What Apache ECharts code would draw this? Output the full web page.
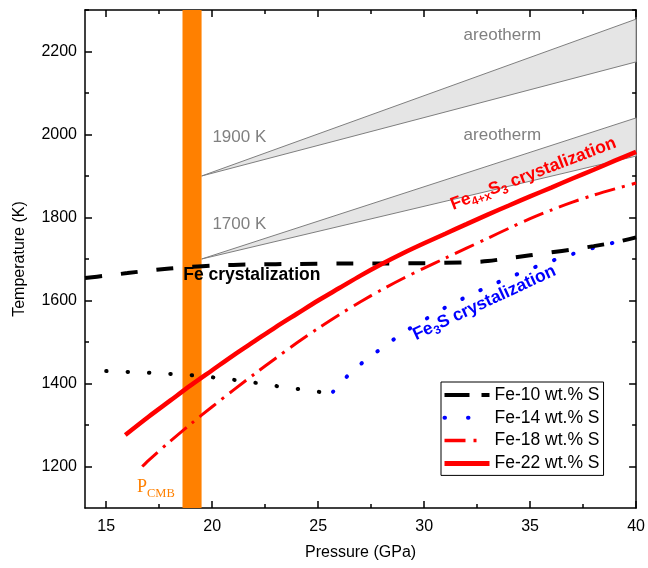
<!DOCTYPE html>
<html>
<head>
<meta charset="utf-8">
<script src="https://cdn.jsdelivr.net/npm/echarts@6/dist/echarts.min.js"></script>
<style>
  html, body { margin: 0; padding: 0; background: #fff; }
  #chart { width: 648px; height: 568px; }
</style>
</head>
<body>
<div id="chart"></div>
<script>
// axis ticks
const xMajor = [15, 20, 25, 30, 35, 40];
const xMinor = [17.5, 22.5, 27.5, 32.5, 37.5];
const yMajor = [1200, 1400, 1600, 1800, 2000, 2200];
const yMinor = [1300, 1500, 1700, 1900, 2100, 2300];

// Fe-10 wt.% S (black dashed)
const fe10P = [14, 15, 16, 17, 18, 19, 20, 22, 24, 26, 28, 30, 32, 33, 34, 35, 36, 37, 38, 39, 40];
const fe10T = [1654, 1660, 1666, 1672, 1677, 1681, 1684, 1687, 1688, 1689, 1689, 1690, 1692, 1695, 1702, 1709, 1716, 1723, 1731, 1740, 1752];

// Fe-14 wt.% S, low part (black dots) and Fe3S branch (blue dots)
const fe14lowP = [15, 16, 17, 18, 19, 20, 21, 22, 23, 24, 25, 25.6];
const fe14lowT = [1430, 1428, 1426, 1423, 1420, 1415, 1409, 1402, 1394, 1387, 1380, 1379];
const fe14P = [25.7, 26.4, 27.2, 28, 29, 30, 31, 32, 33, 34, 35, 36, 37, 38, 39, 39.6];
const fe14T = [1380, 1419, 1455, 1485, 1522, 1553, 1583, 1609, 1633, 1655, 1676, 1695, 1712, 1727, 1740, 1746];

// Fe-18 wt.% S (red dash-dot)
const fe18P = [16.7, 17, 18, 19, 20, 21, 22, 23, 24, 25, 26, 27, 28, 29, 30, 31, 32, 33, 34, 35, 36, 37, 38, 39, 40];
const fe18T = [1200, 1215, 1260, 1303, 1344, 1384, 1423, 1461, 1498, 1533, 1566, 1597, 1626, 1653, 1678, 1702, 1726, 1750, 1774, 1797, 1818, 1837, 1854, 1869, 1883];

// Fe-22 wt.% S (red solid)
const fe22P = [15.9, 17, 18, 19, 20, 21, 22, 23, 24, 25, 26, 27, 28, 29, 30, 31, 32, 33, 34, 35, 36, 37, 38, 39, 40];
const fe22T = [1276, 1320, 1358, 1396, 1432, 1468, 1502, 1536, 1568, 1600, 1630, 1660, 1688, 1714, 1738, 1761, 1784, 1807, 1829, 1851, 1872, 1894, 1915, 1937, 1958];

// areotherm bands: start point, end point upper/lower
const bandP = [19.5, 40];
const hotBandT = [1900, 2278, 2175];
const coldBandT = [1700, 2040, 1948];

// core-mantle boundary pressure range
const cmbP = [18.6, 19.5];

const SANS = '"Liberation Sans", Arial, sans-serif';
const SERIF = '"Liberation Serif", "Times New Roman", serif';

// text notes: [text, fontSize, dy]
const notes = [
  { p: 33.69, t: 2240, rot: 0, color: '#808080', weight: 'normal', family: SANS, align: 'center', runs: [['areotherm', 17, 0]] },
  { p: 33.69, t: 1999, rot: 0, color: '#808080', weight: 'normal', family: SANS, align: 'center', runs: [['areotherm', 17, 0]] },
  { p: 20.01, t: 1994, rot: 0, color: '#808080', weight: 'normal', family: SANS, align: 'left', runs: [['1900 K', 17, 0]] },
  { p: 20.01, t: 1784, rot: 0, color: '#808080', weight: 'normal', family: SANS, align: 'left', runs: [['1700 K', 17, 0]] },
  { p: 21.87, t: 1661, rot: 0, color: '#000', weight: 'bold', family: SANS, align: 'center', runs: [['Fe crystalization', 17.5, 0]] },
  { p: 35.15, t: 1905, rot: 21, color: '#ff0000', weight: 'bold', family: SANS, align: 'center',
    runs: [['Fe', 17.5, 0], ['4+x', 12, 5], ['S', 17.5, 0], ['3', 12, 5], [' crystalization', 17.5, 0]] },
  { p: 32.84, t: 1594, rot: 25, color: '#0000ff', weight: 'bold', family: SANS, align: 'center',
    runs: [['Fe', 17.5, 0], ['3', 12, 5], ['S crystalization', 17.5, 0]] },
  { p: 16.45, t: 1151, rot: 0, color: '#ff8000', weight: 'normal', family: SERIF, align: 'left',
    runs: [['P', 18, 0], ['CMB', 12.5, 7]] }
];

const zip = (a, b) => a.map((v, i) => [v, b[i]]);

const measureCtx = document.createElement('canvas').getContext('2d');
function runWidth(txt, font) {
  measureCtx.font = font;
  return measureCtx.measureText(txt).width;
}

function axisPair(kind, position, major, minor, extra) {
  const isX = kind === 'x';
  const base = {
    type: 'value',
    position: position,
    min: isX ? 14 : 1100,
    max: isX ? 40 : 2300,
    splitLine: { show: false }
  };
  const majorAxis = Object.assign({}, base, {
    axisLine: { show: true, onZero: false, lineStyle: { color: '#000', width: 1.5 } },
    axisTick: { show: true, inside: true, length: 7, customValues: major, lineStyle: { color: '#000', width: 1.5 } },
    axisLabel: { show: false, customValues: major }
  }, extra || {});
  const minorAxis = Object.assign({}, base, {
    axisLine: { show: false, onZero: false },
    axisTick: { show: true, inside: true, length: 4, customValues: minor, lineStyle: { color: '#000', width: 1.5 } },
    axisLabel: { show: false, customValues: minor }
  });
  return [majorAxis, minorAxis];
}

const xAxes = [].concat(
  axisPair('x', 'bottom', xMajor, xMinor, {
    name: 'Pressure (GPa)',
    nameLocation: 'middle',
    nameGap: 37,
    nameTextStyle: { fontSize: 16, color: '#000', fontFamily: SANS },
    axisLabel: { show: true, customValues: xMajor, fontSize: 16, color: '#000', fontFamily: SANS, margin: 11, formatter: v => String(v) }
  }),
  axisPair('x', 'top', xMajor, xMinor)
);
const yAxes = [].concat(
  axisPair('y', 'left', yMajor, yMinor, {
    name: 'Temperature (K)',
    nameLocation: 'middle',
    nameGap: 57,
    nameTextStyle: { fontSize: 16, color: '#000', fontFamily: SANS },
    axisLabel: { show: true, customValues: yMajor, fontSize: 16, color: '#000', fontFamily: SANS, margin: 8, formatter: v => String(v) }
  }),
  axisPair('y', 'right', yMajor, yMinor)
);

const hideSymbol = { opacity: 0 };

const chart = echarts.init(document.getElementById('chart'));

const option = {
  animation: false,
  backgroundColor: '#fff',
  grid: { left: 85, right: 11, top: 10, bottom: 60 },
  xAxis: xAxes,
  yAxis: yAxes,
  legend: {
    data: [
      { name: 'Fe-10 wt.% S', itemStyle: hideSymbol, lineStyle: { color: '#000', width: 4, type: [25, 12] } },
      { name: 'Fe-14 wt.% S', itemStyle: hideSymbol, lineStyle: { color: '#0000ff', width: 4, type: [0.5, 23], cap: 'round' } },
      { name: 'Fe-18 wt.% S', itemStyle: hideSymbol, lineStyle: { color: '#ff0000', width: 3.5, type: [21, 8, 3, 13] } },
      { name: 'Fe-22 wt.% S', itemStyle: hideSymbol, lineStyle: { color: '#ff0000', width: 5 } }
    ],
    orient: 'vertical',
    left: 441,
    top: 382,
    padding: [3, 4, 2, 1],
    itemWidth: 45,
    itemHeight: 14,
    itemGap: 2.8,
    borderColor: '#000',
    borderWidth: 1,
    borderRadius: 0,
    backgroundColor: '#fff',
    textStyle: { fontSize: 17.5, color: '#000', fontFamily: SANS, lineHeight: 20 }
  },
  series: [
    {
      type: 'custom',
      silent: true,
      z: 1,
      data: [[bandP[0], hotBandT[0]], [bandP[0], coldBandT[0]]],
      renderItem: function (params, api) {
        const b = params.dataIndex === 0 ? hotBandT : coldBandT;
        const pts = [
          api.coord([bandP[0], b[0]]),
          api.coord([bandP[1], b[1]]),
          api.coord([bandP[1], b[2]])
        ];
        return {
          type: 'polygon',
          shape: { points: pts },
          style: { fill: '#e5e5e5', stroke: '#7f7f7f', lineWidth: 1 }
        };
      }
    },
    {
      type: 'custom',
      silent: true,
      z: 2,
      data: [[cmbP[0], 2300]],
      renderItem: function (params, api) {
        const a = api.coord([cmbP[0], 2300]);
        const b = api.coord([cmbP[1], 1100]);
        return {
          type: 'rect',
          shape: { x: a[0], y: a[1], width: b[0] - a[0], height: b[1] - a[1] },
          style: { fill: '#ff8000' }
        };
      }
    },
    {
      name: 'Fe-14 low',
      type: 'line',
      z: 3,
      symbol: 'none',
      smooth: 0.3,
      data: zip(fe14lowP, fe14lowT),
      lineStyle: { color: '#000', width: 4, type: [0.5, 20.9], cap: 'round' }
    },
    {
      name: 'Fe-14 wt.% S',
      type: 'line',
      z: 3,
      symbol: 'none',
      smooth: 0.3,
      data: zip(fe14P, fe14T),
      itemStyle: { color: '#0000ff' },
      lineStyle: { color: '#0000ff', width: 4, type: [0.5, 19.5], cap: 'round' }
    },
    {
      name: 'Fe-10 wt.% S',
      type: 'line',
      z: 4,
      symbol: 'none',
      smooth: 0.3,
      data: zip(fe10P, fe10T),
      itemStyle: { color: '#000' },
      lineStyle: { color: '#000', width: 4, type: [17, 19] }
    },
    {
      name: 'Fe-18 wt.% S',
      type: 'line',
      z: 4,
      symbol: 'none',
      smooth: 0.3,
      data: zip(fe18P, fe18T),
      itemStyle: { color: '#ff0000' },
      lineStyle: { color: '#ff0000', width: 3, type: [21, 7, 3, 7] }
    },
    {
      name: 'Fe-22 wt.% S',
      type: 'line',
      z: 4,
      symbol: 'none',
      smooth: 0.3,
      data: zip(fe22P, fe22T),
      itemStyle: { color: '#ff0000' },
      lineStyle: { color: '#ff0000', width: 4.5 }
    },
    {
      type: 'custom',
      silent: true,
      z: 6,
      clip: false,
      data: notes.map(n => [n.p, n.t]),
      renderItem: function (params, api) {
        const n = notes[params.dataIndex];
        const pt = api.coord([api.value(0), api.value(1)]);
        let x = 0;
        const kids = [];
        n.runs.forEach(r => {
          const font = n.weight + ' ' + r[1] + 'px ' + n.family;
          kids.push({
            type: 'text',
            x: x,
            y: r[2],
            style: { text: r[0], font: font, fill: n.color, align: 'left', verticalAlign: 'middle' }
          });
          x += runWidth(r[0], font);
        });
        const shift = n.align === 'center' ? -x / 2 : 0;
        kids.forEach(k => { k.x += shift; });
        return {
          type: 'group',
          x: pt[0],
          y: pt[1],
          rotation: n.rot * Math.PI / 180,
          children: kids
        };
      }
    }
  ]
};

chart.setOption(option);
</script>
</body>
</html>
